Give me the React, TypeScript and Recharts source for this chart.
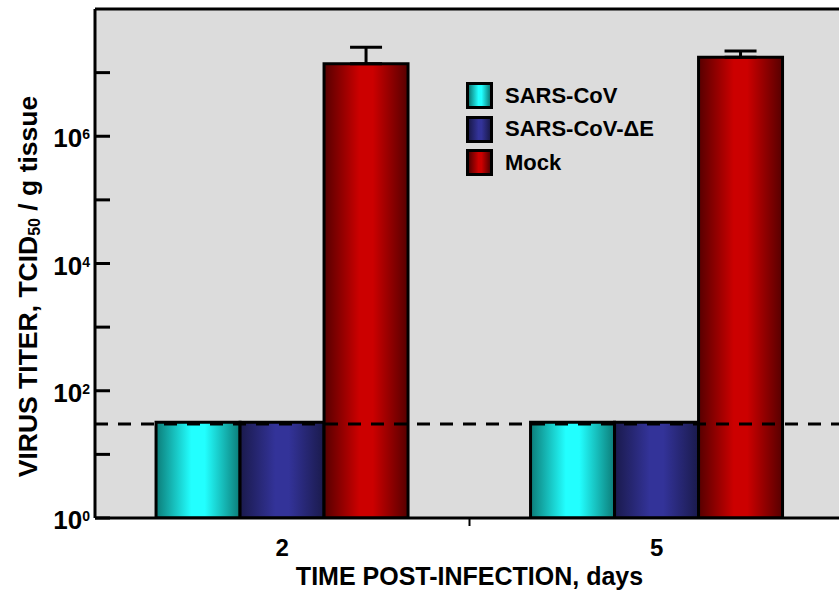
import React from "react";
import {
  BarChart,
  Bar,
  XAxis,
  YAxis,
  CartesianGrid,
  ReferenceLine,
  ErrorBar,
  Legend,
  Label,
} from "recharts";

const days = ["2", "5"];
const sarsCoV = [32, 32];
const sarsCoVdE = [32, 32];
const mock = [1.38e7, 1.74e7];
const mockErrUp = [1.12e7, 0.44e7];
const yTicks = [1, 10, 100, 1e3, 1e4, 1e5, 1e6, 1e7];
const detectionLimit = 30;

const data = days.map((d, i) => ({
  day: d,
  sars: sarsCoV[i],
  sarsDE: sarsCoVdE[i],
  mock: mock[i],
  mockErr: [0, mockErrUp[i]],
}));

const FONT = "Arial, 'Liberation Sans', Helvetica, sans-serif";

const series = [
  { key: "sars", name: "SARS-CoV", edge: "#0c7c78", mid: "#22ffff" },
  { key: "sarsDE", name: "SARS-CoV-\u0394E", edge: "#1a1a4c", mid: "#333399" },
  { key: "mock", name: "Mock", edge: "#560000", mid: "#cc0000" },
];

const LeftTick = (props: any) => {
  const { x, y, payload } = props;
  const exp = Math.round(Math.log10(payload.value));
  return (
    <g>
      <line x1={x} x2={x + 15} y1={y} y2={y} stroke="#000" strokeWidth={3} />
      {exp % 2 === 0 && (
        <text
          x={x - 5}
          y={y + 11}
          textAnchor="end"
          fontFamily={FONT}
          fontWeight="bold"
          fontSize={26}
          fill="#000"
        >
          10
          <tspan dy={-8} fontSize={14}>
            {exp}
          </tspan>
        </text>
      )}
    </g>
  );
};

const RightTick = (props: any) => {
  const { x, y } = props;
  return <line x1={x - 15} x2={x} y1={y} y2={y} stroke="#000" strokeWidth={3} />;
};

const DayTick = (props: any) => {
  const { x, y, payload, index } = props;
  const off = payload.offset ?? 187;
  return (
    <g>
      {index === 0 && (
        <line x1={x + off} x2={x + off} y1={y - 8} y2={y} stroke="#000" strokeWidth={2} />
      )}
      <text
        x={x}
        y={y + 30}
        textAnchor="middle"
        fontFamily={FONT}
        fontWeight="bold"
        fontSize={24}
        fill="#000"
      >
        {payload.value}
      </text>
    </g>
  );
};

const XTitle = (props: any) => {
  const vb = props.viewBox;
  return (
    <text
      x={vb.x + vb.width / 2}
      y={vb.y + vb.height - 16}
      textAnchor="middle"
      fontFamily={FONT}
      fontWeight="bold"
      fontSize={25}
      fill="#000"
    >
      TIME POST-INFECTION, days
    </text>
  );
};

const YTitle = (props: any) => {
  const vb = props.viewBox;
  const cx = 28;
  const cy = vb.y + vb.height / 2 + 23;
  return (
    <text
      x={cx}
      y={cy}
      transform={`rotate(-90 ${cx} ${cy})`}
      textAnchor="middle"
      dominantBaseline="central"
      fontFamily={FONT}
      fontWeight="bold"
      fontSize={26.5}
      fill="#000"
    >
      VIRUS TITER, TCID
      <tspan dy={6} fontSize={16}>
        50
      </tspan>
      <tspan dy={-6}> / g tissue</tspan>
    </text>
  );
};

const LegendBox = () => (
  <div style={{ fontFamily: FONT, fontWeight: "bold", fontSize: 22 }}>
    {series.map((s) => (
      <div
        key={s.key}
        style={{ display: "flex", alignItems: "center", height: 33.5 }}
      >
        <div
          style={{
            width: 21,
            height: 21,
            border: "3px solid #000",
            background: `linear-gradient(to right, ${s.edge}, ${s.mid} 45%, ${s.mid} 60%, ${s.edge})`,
            marginRight: 12,
          }}
        />
        <span>{s.name}</span>
      </div>
    ))}
  </div>
);

export default function App() {
  return (
    <div
      style={{
        position: "absolute",
        left: 0,
        top: 0,
        width: 839,
        height: 601,
        overflow: "hidden",
        background: "#fff",
      }}
    >
      <BarChart
        width={860}
        height={601}
        data={data}
        margin={{ top: 9, right: 16, left: 0, bottom: 0 }}
        barCategoryGap="16.3%"
        barGap={0}
      >
        <defs>
          {series.map((s) => (
            <linearGradient key={s.key} id={`g-${s.key}`} x1="0" y1="0" x2="1" y2="0">
              <stop offset="0%" stopColor={s.edge} />
              <stop offset="42%" stopColor={s.mid} />
              <stop offset="58%" stopColor={s.mid} />
              <stop offset="100%" stopColor={s.edge} />
            </linearGradient>
          ))}
        </defs>
        <CartesianGrid fill="#dcdcdc" horizontal={false} vertical={false} />
        <XAxis
          dataKey="day"
          height={83}
          axisLine={{ stroke: "#000", strokeWidth: 3 }}
          tickLine={false}
          tick={<DayTick />}
        >
          <Label content={<XTitle />} />
        </XAxis>
        <YAxis
          yAxisId="l"
          scale="log"
          domain={[1, 1e8]}
          ticks={yTicks}
          allowDataOverflow
          width={95}
          axisLine={{ stroke: "#000", strokeWidth: 3 }}
          tickLine={false}
          tickSize={0}
          tickMargin={0}
          tick={<LeftTick />}
          label={<YTitle />}
        />
        <YAxis
          yAxisId="r"
          orientation="right"
          scale="log"
          domain={[1, 1e8]}
          ticks={yTicks}
          allowDataOverflow
          width={0}
          axisLine={{ stroke: "#000", strokeWidth: 3 }}
          tickLine={false}
          tickSize={0}
          tickMargin={0}
          tick={<RightTick />}
        />
        {series.map((s) => (
          <Bar
            key={s.key}
            yAxisId="l"
            dataKey={s.key}
            name={s.name}
            fill={`url(#g-${s.key})`}
            stroke="#000"
            strokeWidth={3}
            isAnimationActive={false}
          >
            {s.key === "mock" && (
              <ErrorBar dataKey="mockErr" direction="y" width={16} strokeWidth={3} stroke="#000" />
            )}
          </Bar>
        ))}
        <ReferenceLine
          yAxisId="l"
          y={detectionLimit}
          stroke="#000"
          strokeWidth={3}
          strokeDasharray="13 10"
        />
        <ReferenceLine yAxisId="l" y={1e8} stroke="#000" strokeWidth={3} />
        <Legend
          layout="vertical"
          align="center"
          verticalAlign="middle"
          wrapperStyle={{ left: 466, top: 79, width: "auto" }}
          content={<LegendBox />}
        />
      </BarChart>
    </div>
  );
}
